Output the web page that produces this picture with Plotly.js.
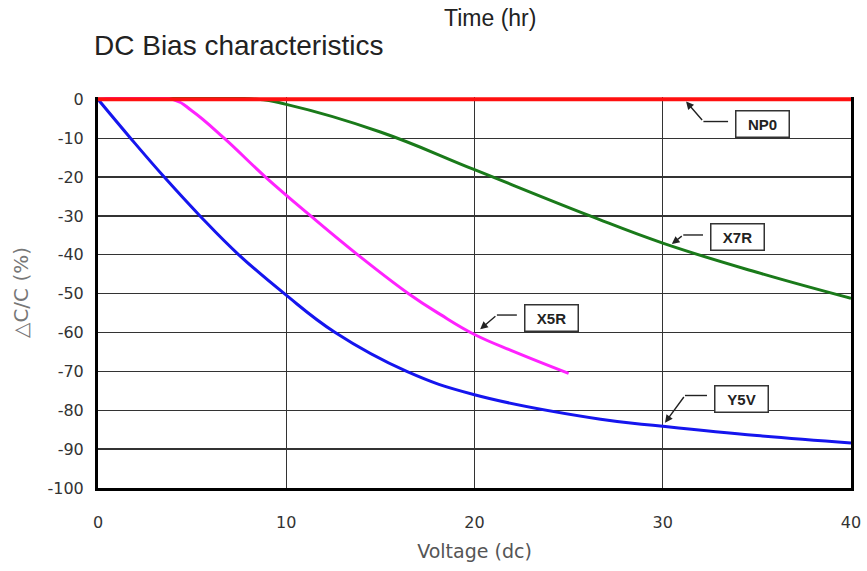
<!DOCTYPE html>
<html>
<head>
<meta charset="utf-8">
<script src="https://cdn.plot.ly/plotly-3.0.1.min.js"></script>
<style>html,body{margin:0;padding:0;background:#fff;}#chart{width:867px;height:571px;}</style>
</head>
<body>
<div id="chart"></div>
<script>
// ---- Data ----
const np0X = [0, 10, 20, 30, 40];
const np0Y = [0, 0, 0, 0, 0];

const x7rX = [0, 8.45, 10, 15, 20, 26.14, 30, 35, 40];
const x7rY = [0, 0, -1.3, -8.4, -18.1, -30, -37, -44.5, -51.2];

const x5rX = [0, 3.96, 5.0, 6.7, 8.9, 11.3, 13.8, 16.5, 18.2, 20, 22.1, 25];
const x5rY = [0, 0, -3, -10, -20, -30, -40, -50, -55.4, -60.5, -64.9, -70.5];

const y5vX = [0, 1.73, 3.52, 5.42, 7.48, 9.9, 12.6, 16.4, 20, 26.7, 30, 35, 40];
const y5vY = [0, -10, -20, -30, -40, -50, -60, -70, -76, -82.3, -84.1, -86.5, -88.4];

const xTicks = [0, 10, 20, 30, 40];
const yTicks = [0, -10, -20, -30, -40, -50, -60, -70, -80, -90, -100];

const seriesNames = ['NP0', 'X7R', 'X5R', 'Y5V'];

// ---- Traces ----
const lineW = 3;
const sm = 1.2;
const traces = [
  {x: x7rX, y: x7rY, name: seriesNames[1], mode: 'lines', line: {color: '#1a7a1a', width: lineW, shape: 'spline', smoothing: sm}},
  {x: x5rX, y: x5rY, name: seriesNames[2], mode: 'lines', line: {color: '#ff22ff', width: lineW, shape: 'spline', smoothing: sm}},
  {x: y5vX, y: y5vY, name: seriesNames[3], mode: 'lines', line: {color: '#1515ee', width: lineW, shape: 'spline', smoothing: sm}},
  {x: np0X, y: np0Y, name: seriesNames[0], mode: 'lines', line: {color: '#ff1010', width: 4}}
];

// ---- Callout labels (box + bent leader with arrow) ----
const callouts = [
  {label: seriesNames[0], head: [31.24, -0.57], elbow: [32.16, -5.71], end: 33.47, box: [35.3, -6.3]},
  {label: seriesNames[1], head: [30.48, -37.2], elbow: [31.09, -34.9], end: 32.14, box: [33.97, -35.5]},
  {label: seriesNames[2], head: [20.30, -59.15], elbow: [21.19, -55.5], end: 22.25, box: [24.07, -56.2]},
  {label: seriesNames[3], head: [30.12, -83.2], elbow: [31.18, -76.2], end: 32.35, box: [34.2, -77.1]}
];

const annotations = [];
const shapes = [];
callouts.forEach(c => {
  annotations.push({
    x: c.box[0], y: c.box[1], xref: 'x', yref: 'y', showarrow: false,
    text: '<b>' + c.label + '</b>', xanchor: 'center', yanchor: 'middle',
    font: {family: 'Liberation Sans, Arial, sans-serif', size: 15, color: '#222'},
    bgcolor: '#ffffff', bordercolor: '#333', borderwidth: 1.5, borderpad: 4, width: 44, height: 17
  });
  annotations.push({
    x: c.head[0], y: c.head[1], xref: 'x', yref: 'y',
    ax: c.elbow[0], ay: c.elbow[1], axref: 'x', ayref: 'y',
    text: '', showarrow: true, arrowhead: 2, arrowsize: 1.1, arrowwidth: 1.4, arrowcolor: '#222', standoff: 0
  });
  shapes.push({
    type: 'line', xref: 'x', yref: 'y',
    x0: c.elbow[0], y0: c.elbow[1], x1: c.end, y1: c.elbow[1],
    line: {color: '#222', width: 1.4}
  });
});

annotations.push({
  xref: 'paper', yref: 'paper', x: 0.52, y: 1.203, showarrow: false,
  text: 'Time (hr)', xanchor: 'center', yanchor: 'middle',
  font: {family: 'Liberation Sans, Arial, sans-serif', size: 23, color: '#222'}
});

const tickFont = {family: 'DejaVu Sans, Verdana, sans-serif', size: 16, color: '#333'};

const layout = {
  width: 867, height: 571,
  margin: {l: 97.5, r: 16, t: 97, b: 83},
  paper_bgcolor: '#ffffff', plot_bgcolor: '#ffffff',
  showlegend: false,
  title: {
    text: 'DC Bias characteristics', x: 94 / 867, xanchor: 'left', xref: 'container',
    y: 1 - 45 / 571, yanchor: 'middle', yref: 'container',
    font: {family: 'Liberation Sans, Arial, sans-serif', size: 28, color: '#222'}
  },
  xaxis: {
    range: [0, 40], tickvals: xTicks, ticktext: xTicks.map(String),
    showgrid: true, gridcolor: '#333', gridwidth: 1.3,
    showline: true, linecolor: '#000', linewidth: 3, mirror: false,
    zeroline: false, ticks: '', ticklabelstandoff: 18,
    tickfont: tickFont,
    title: {text: 'Voltage (dc)', standoff: 14, font: {family: 'DejaVu Sans, Verdana, sans-serif', size: 19, color: '#555'}},
    fixedrange: true
  },
  yaxis: {
    range: [-100, 0.6], tickvals: yTicks, ticktext: yTicks.map(String),
    showgrid: true, gridcolor: '#333', gridwidth: 1.3,
    showline: true, linecolor: '#000', linewidth: 3, mirror: true,
    zeroline: false, ticks: '', ticklabelstandoff: 8,
    tickfont: tickFont,
    title: {text: '\u25B3C/C (%)', standoff: 14, font: {family: 'DejaVu Sans, Verdana, sans-serif', size: 20, color: '#777'}},
    fixedrange: true
  },
  annotations: annotations,
  shapes: shapes
};

Plotly.newPlot('chart', traces, layout, {displayModeBar: false, staticPlot: true});
</script>
</body>
</html>
